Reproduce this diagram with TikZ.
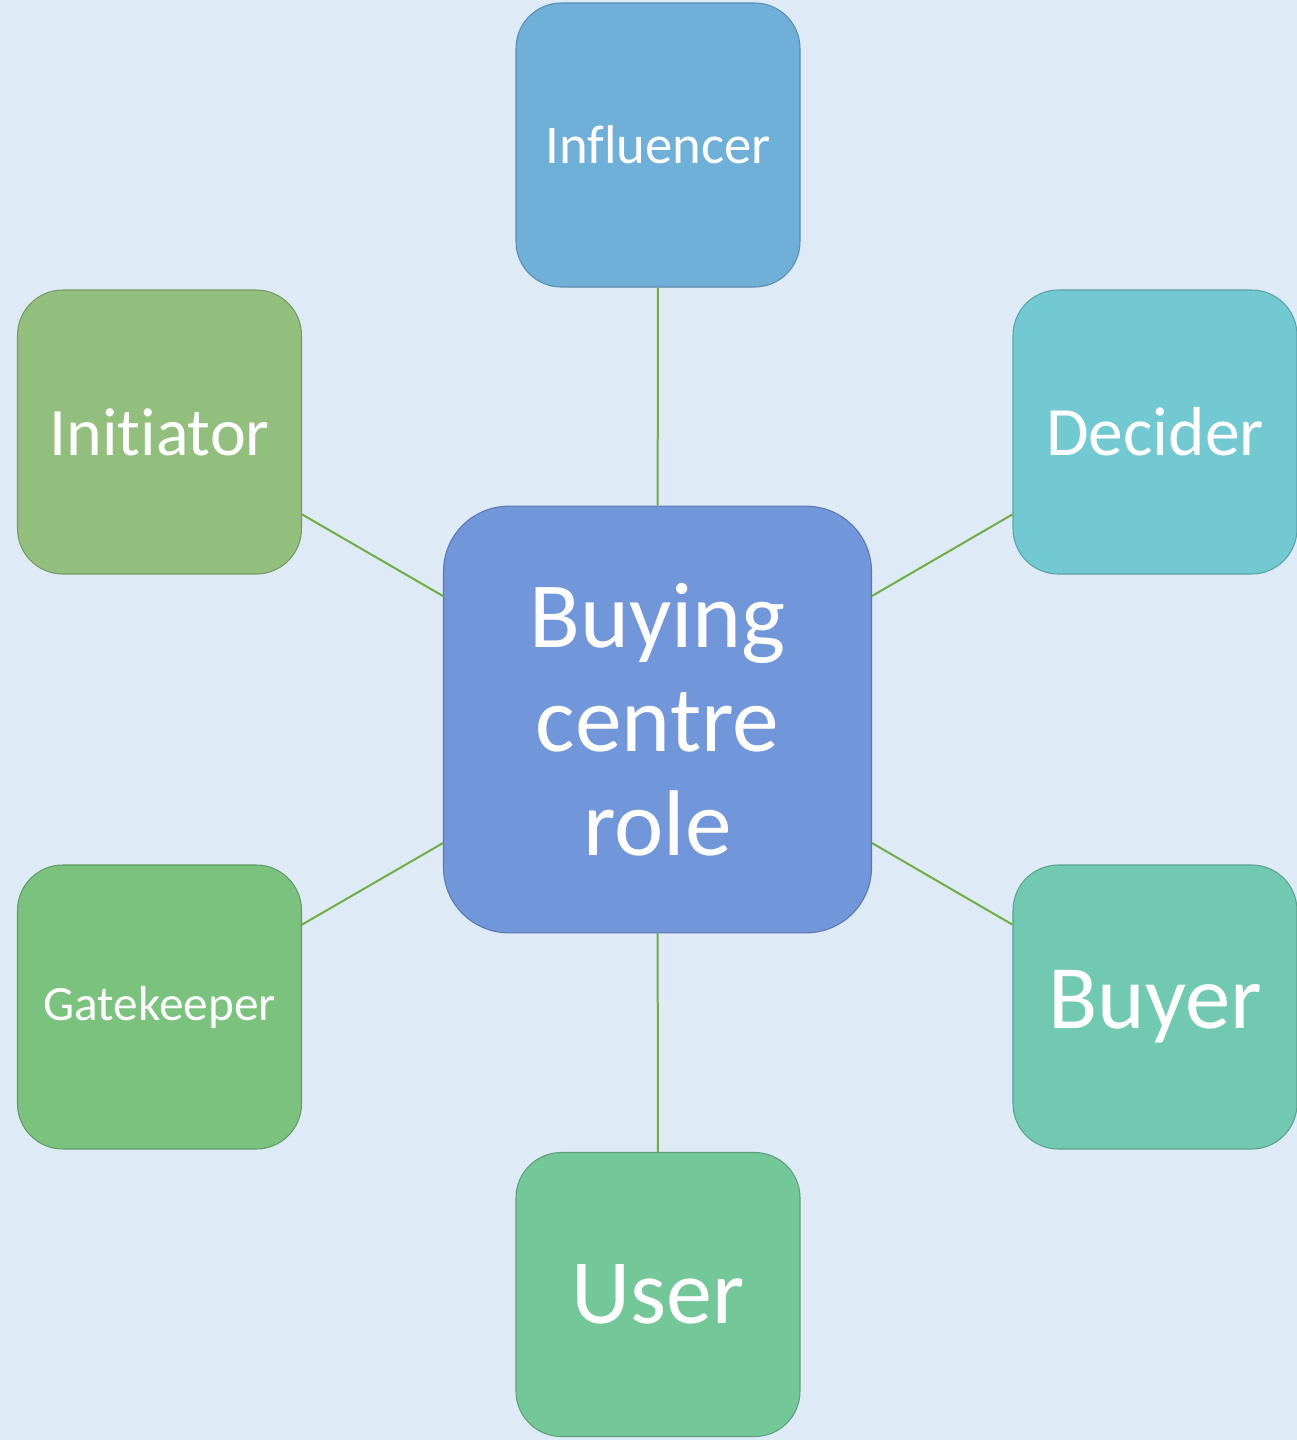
\documentclass[tikz,border=0pt]{standalone}
\usepackage{fontspec}
\setmainfont[Ligatures=NoCommon]{Carlito}
\usepackage{xcolor}
\definecolor{bgpanel}{RGB}{222,234,246}
\definecolor{linkgreen}{RGB}{112,173,71}
\definecolor{influencercol}{RGB}{112,176,216}
\definecolor{initiatorcol}{RGB}{147,191,126}
\definecolor{decidercol}{RGB}{114,201,209}
\definecolor{centrecol}{RGB}{114,150,218}
\definecolor{gatekeepercol}{RGB}{122,194,126}
\definecolor{buyercol}{RGB}{114,201,178}
\definecolor{usercol}{RGB}{116,199,152}

\begin{document}
\begin{tikzpicture}[x=0.75pt,y=0.75pt,yscale=-1,xscale=1,
	role/.style={fill=#1, draw=#1!80!black, line width=0.8pt, rounded corners=34pt,
		minimum width=213pt, minimum height=213pt, inner sep=0pt, text=white, align=center},
	link/.style={draw=linkgreen, line width=1.5pt}]

	% background panel
	\fill [bgpanel] (0,0) rectangle (1297,1440);
	\useasboundingbox (0,0) rectangle (1297,1440);

	% Centre node
	\node [role=centrecol, rounded corners=49pt, minimum width=321pt, minimum height=320pt,
		font={\fontsize{70}{78}\selectfont}] (centre) at (657.5,719.5) {Buying\\centre\\role};

	% Role nodes
	\node [role=influencercol, font={\fontsize{41}{49}\selectfont}] (influencer) at (658,145) {Influencer};
	\node [role=initiatorcol, font={\fontsize{51}{61}\selectfont}] (initiator) at (159.5,432) {Initiator};
	\node [role=decidercol, font={\fontsize{52}{62}\selectfont}] (decider) at (1155,432) {Decider};
	\node [role=gatekeepercol, font={\fontsize{37}{44}\selectfont}] (gatekeeper) at (159.5,1007) {Gatekeeper};
	\node [role=buyercol, font={\fontsize{68}{80}\selectfont}] (buyer) at (1155,1007) {Buyer};
	\node [role=usercol, font={\fontsize{69}{82}\selectfont}] (user) at (658,1294.5) {User};

	% Connectors
	\draw [link] (influencer) -- (centre);
	\draw [link] (initiator) -- (centre);
	\draw [link] (decider) -- (centre);
	\draw [link] (gatekeeper) -- (centre);
	\draw [link] (buyer) -- (centre);
	\draw [link] (user) -- (centre);

\end{tikzpicture}
\end{document}
